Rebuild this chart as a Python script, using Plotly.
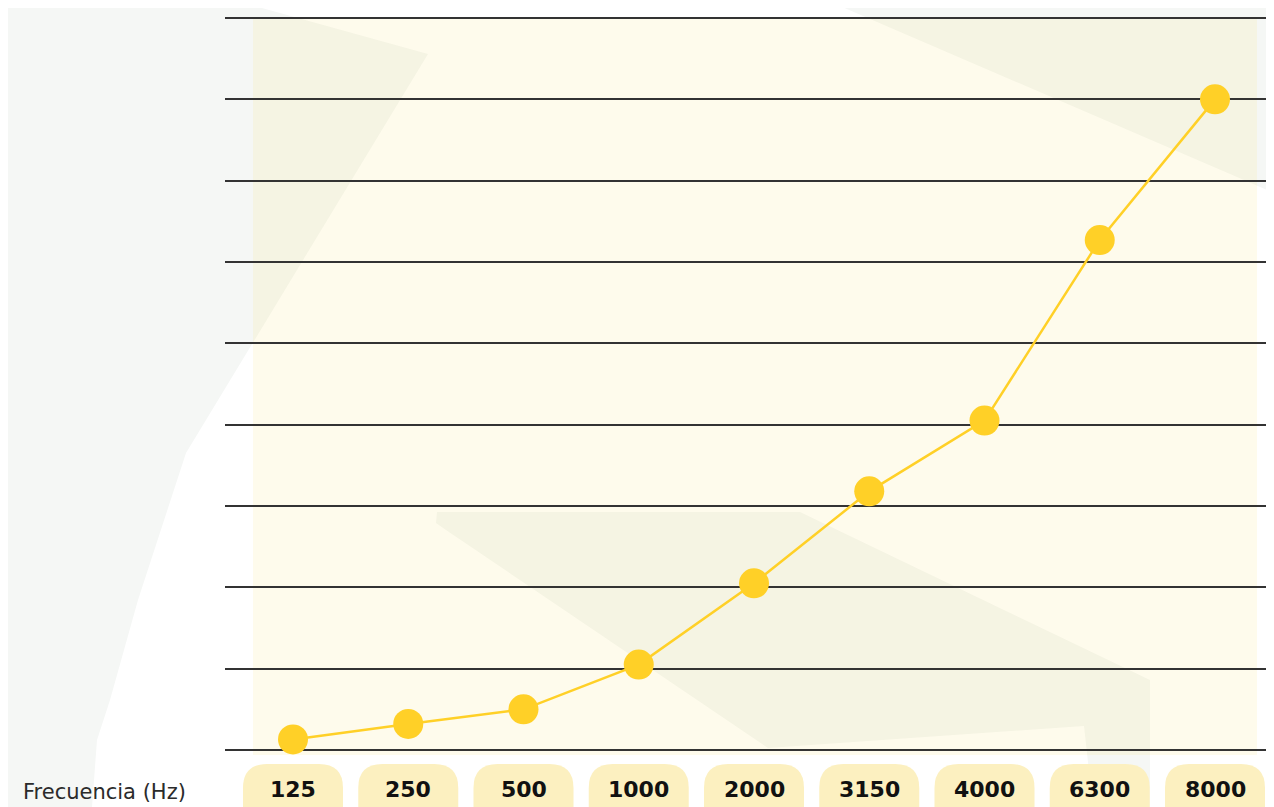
import plotly.graph_objects as go

# ---- data ----
frequencies = ["125", "250", "500", "1000", "2000", "3150", "4000", "6300", "8000"]
values = [0.13, 0.32, 0.50, 1.05, 2.05, 3.18, 4.05, 6.27, 8.00]
x_title = "Frecuencia (Hz)"

OFF = 8  # page body margin offset
W, H = 1274 - OFF, 807 - OFF
ML, MR, MT, MB = 225 - OFF, 0, 10 - OFF, 47
PW, PH = W - ML - MR, H - MT - MB

LINE = "#ffd027"
PILL = "#fcf0c0"
GRAY = "#f5f7f5"

def px2paper(px, py):
    # px, py are window pixel coordinates (reference frame)
    fx, fy = px - OFF, py - OFF
    return (fx - ML) / PW, (H - MB - fy) / PH

def poly_path(pts):
    parts = []
    for k, (px, py) in enumerate(pts):
        xp, yp = px2paper(px, py)
        parts.append(("M" if k == 0 else "L") + f"{xp:.5f},{yp:.5f}")
    return " ".join(parts) + " Z"

xi = list(range(len(frequencies)))

fig = go.Figure()
fig.add_trace(go.Scatter(
    x=xi, y=values, mode="lines+markers",
    line=dict(color=LINE, width=2.5),
    marker=dict(color=LINE, size=30, line=dict(width=0)),
    hoverinfo="skip", showlegend=False,
))

shapes = []
# decorative background shapes (window pixel outlines)
left_shape = [(0, 0), (233, 0), (428, 54), (186, 453), (138, 600), (110, 700),
              (97, 740), (92, 807), (0, 807)]
top_right = [(826, 0), (1274, 0), (1274, 193)]
bottom_shape = [(437, 512), (800, 512), (1150, 680), (1150, 807), (1093, 807),
                (1084, 726), (768, 748), (446, 530), (436, 523)]
for pts in (left_shape, top_right, bottom_shape):
    shapes.append(dict(type="path", xref="paper", yref="paper", path=poly_path(pts),
                       fillcolor=GRAY, line=dict(width=0), layer="below"))
# yellow panel
x0, y0 = px2paper(253, 18)
x1, y1 = px2paper(1257, 755)
shapes.append(dict(type="rect", xref="paper", yref="paper", x0=x0, x1=x1, y0=y1, y1=y0,
                   fillcolor="rgba(250,232,150,0.18)", line=dict(width=0), layer="below"))

# x range in data units (category step = 115.25 px, first category at x=293)
xscale = 115.25
x_lo = (225 - 293) / xscale
x_hi = (1274 - 293) / xscale

# pills behind tick labels
w = 50 / xscale
rx = 24 / xscale
_, ty = px2paper(0, 764)
ry = 24 / PH
_, by = px2paper(0, 840)
for i in xi:
    a, b = i - w, i + w
    path = (f"M{a},{by} L{a},{ty - ry} Q{a},{ty} {a + rx},{ty} "
            f"L{b - rx},{ty} Q{b},{ty} {b},{ty - ry} L{b},{by} Z")
    shapes.append(dict(type="path", xref="x", yref="paper", path=path,
                       fillcolor=PILL, line=dict(width=0), layer="below"))

annotations = []
_, label_y = px2paper(0, 789.5)
for i, lab in zip(xi, frequencies):
    annotations.append(dict(x=i, xref="x", y=label_y, yref="paper", text=f"<b>{lab}</b>",
                            showarrow=False, xanchor="center", yanchor="middle",
                            font=dict(family="DejaVu Sans", size=22, color="#111111")))
tx, tyy = px2paper(21, 792)
annotations.append(dict(x=tx, xref="paper", y=tyy, yref="paper", text=x_title,
                        showarrow=False, xanchor="left", yanchor="middle",
                        font=dict(family="DejaVu Sans", size=21, color="#2b2b2b")))

# y range: value 0 at window y=750, 81.333 px per unit
yscale = 81.333
y_lo = (750 - 760) / yscale
y_hi = (750 - 10) / yscale

fig.update_layout(
    width=W, height=H,
    margin=dict(l=ML, r=MR, t=MT, b=MB, pad=0),
    paper_bgcolor="white", plot_bgcolor="rgba(0,0,0,0)",
    shapes=shapes, annotations=annotations,
    xaxis=dict(range=[x_lo, x_hi], showgrid=False, zeroline=False,
               showticklabels=False, showline=False, ticks=""),
    yaxis=dict(range=[y_lo, y_hi], tickvals=list(range(0, 10)), showgrid=True,
               gridcolor="#333333", gridwidth=1.6, zeroline=False,
               showticklabels=False, showline=False, ticks=""),
    showlegend=False,
)

fig.write_html("out.html")
